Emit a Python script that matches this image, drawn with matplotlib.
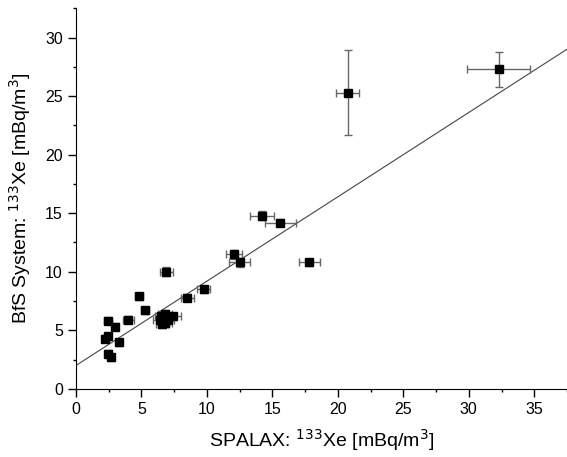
import numpy as np
import matplotlib
matplotlib.use("Agg")
import matplotlib.pyplot as plt
from matplotlib.ticker import MultipleLocator

plt.rcParams['font.family'] = ['Liberation Sans', 'DejaVu Sans']

# SPALAX vs BfS 133Xe activity concentrations (mBq/m3)
spalax = [32.3, 20.75, 14.2, 15.6, 12.05, 12.5, 17.8, 9.76, 8.5, 6.9, 4.8, 5.3,
          4.0, 2.45, 3.0, 2.45, 2.2, 3.3, 2.45, 2.7,
          6.5, 6.8, 6.4, 6.8, 7.0, 7.4, 6.6]
bfs = [27.3, 25.3, 14.8, 14.2, 11.5, 10.8, 10.8, 8.5, 7.8, 10.0, 7.9, 6.7,
       5.9, 5.8, 5.3, 4.5, 4.3, 4.0, 3.0, 2.7,
       6.2, 6.4, 5.9, 5.6, 5.9, 6.2, 5.5]
spalax_err = [2.4, 0.9, 0.9, 1.2, 0.6, 0.8, 0.8, 0.5, 0.5, 0.5, 0.3, 0.3,
              0.4, 0.3, 0.2, 0.2, 0.2, 0.2, 0.2, 0.2,
              0.5, 0.5, 0.5, 0.5, 0.5, 0.6, 0.5]
bfs_err = [1.5, 3.65, 0.4, 0.3, 0.4, 0.4, 0.3, 0.3, 0.3, 0.4, 0.3, 0.3,
           0.3, 0.3, 0.3, 0.3, 0.3, 0.3, 0.3, 0.3,
           0.3, 0.3, 0.3, 0.3, 0.3, 0.3, 0.3]

# linear fit
fit_intercept = 2.0
fit_slope = 0.72

fig = plt.figure(figsize=(5.67, 4.57), dpi=100)
ax = fig.add_axes([0.134, 0.149, 0.866, 0.833])

xmin, xmax = 0, 37.5
ymin, ymax = 0, 32.5
xs = np.array([xmin, xmax])
ax.plot(xs, fit_intercept + fit_slope * xs, color='#444444', lw=0.8, zorder=1)

ax.errorbar(spalax, bfs, xerr=spalax_err, yerr=bfs_err, fmt='s', color='black',
            ms=6.2, ecolor='#666666', elinewidth=1.0, capsize=3, capthick=1.0,
            zorder=3)

ax.set_xlim(xmin, xmax)
ax.set_ylim(ymin, ymax)
ax.xaxis.set_major_locator(MultipleLocator(5))
ax.xaxis.set_minor_locator(MultipleLocator(2.5))
ax.yaxis.set_major_locator(MultipleLocator(5))
ax.yaxis.set_minor_locator(MultipleLocator(2.5))
ax.tick_params(which='major', direction='out', length=5.5, width=1,
               labelsize=11.5, pad=4)
ax.tick_params(which='minor', direction='out', length=2.5, width=1)

for side in ('top', 'right'):
    ax.spines[side].set_visible(False)

ax.set_xlabel(r'SPALAX: $^{133}$Xe [mBq/m$^3$]', fontsize=14, labelpad=7)
ax.set_ylabel(r'BfS System: $^{133}$Xe [mBq/m$^3$]', fontsize=14, labelpad=9)

fig.savefig('out.png', dpi=100)
